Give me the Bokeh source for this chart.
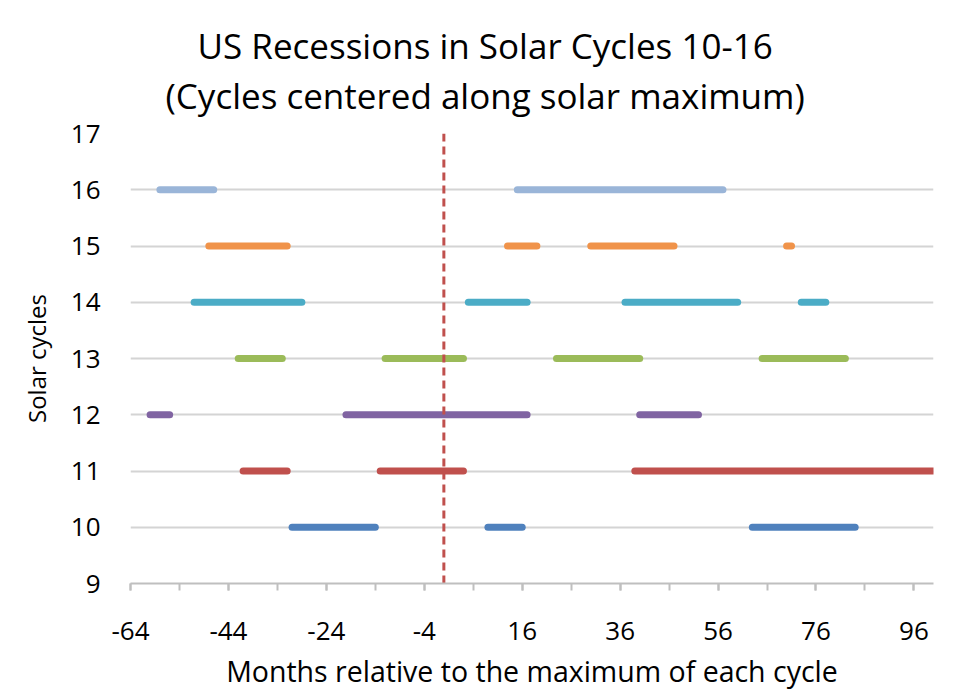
from bokeh.plotting import figure
from bokeh.models import Range1d, FixedTicker, Title
from bokeh.embed import file_html
from bokeh.resources import INLINE

# ---- data ----
cycles = [10, 11, 12, 13, 14, 15, 16]
cycle_colors = ["#4F81BD", "#C0504D", "#8064A2", "#9BBB59", "#4BACC6", "#F0934A", "#9AB5D8"]

seg_cycle = [10, 10, 10,
             11, 11, 11,
             12, 12, 12,
             13, 13, 13, 13,
             14, 14, 14, 14,
             15, 15, 15, 15,
             16, 16]
seg_start = [-31, 9, 63,
             -41, -13, 39,
             -60, -20, 40,
             -42, -12, 23, 65,
             -51, 5, 37, 73,
             -48, 13, 30, 70,
             -58, 15]
seg_end = [-14, 16, 84,
           -32, 4, 100,
           -56, 17, 52,
           -33, 4, 40, 82,
           -29, 17, 60, 78,
           -32, 19, 47, 71,
           -47, 57]

solar_max = [0]
x_ticks = [-64, -44, -24, -4, 16, 36, 56, 76, 96]
x_minor = [-64, -54, -44, -34, -24, -14, -4, 6, 16, 26, 36, 46, 56, 66, 76, 86, 96]
y_ticks = [9, 10, 11, 12, 13, 14, 15, 16, 17]
title_lines = ["US Recessions in Solar Cycles 10-16",
               "(Cycles centered along solar maximum)"]

FONT = "Open Sans"

p = figure(width=938, height=698,
           x_range=Range1d(-64, 100), y_range=Range1d(9, 17),
           output_backend="svg", toolbar_location=None,
           min_border_left=130, min_border_right=5,
           min_border_top=133, min_border_bottom=115)
p.title = None
p.outline_line_color = None
p.background_fill_color = "white"
p.border_fill_color = "white"

# two-line title (first added sits closest to the frame)
t2 = Title(text=title_lines[1], align="left",
           text_font=FONT, text_font_size="35px", text_font_style="normal",
           text_color="#000000", standoff=30, offset=35)
t1 = Title(text=title_lines[0], align="left",
           text_font=FONT, text_font_size="35px", text_font_style="normal",
           text_color="#000000", standoff=-29, offset=67)
p.add_layout(t2, "above")
p.add_layout(t1, "above")

# grid
p.xgrid.visible = False
p.ygrid.ticker = FixedTicker(ticks=y_ticks)
p.ygrid.grid_line_color = "#D4D4D4"
p.ygrid.grid_line_width = 2

# x axis
p.xaxis.ticker = FixedTicker(ticks=x_ticks, minor_ticks=x_minor)
p.xaxis.major_label_overrides = {t: str(t) for t in x_ticks}
p.xaxis.axis_line_color = "#BFBFBF"
p.xaxis.axis_line_width = 2
p.xaxis.major_tick_line_color = "#BFBFBF"
p.xaxis.minor_tick_line_color = "#BFBFBF"
p.xaxis.major_tick_line_width = 2
p.xaxis.minor_tick_line_width = 2
p.xaxis.major_tick_in = 0
p.xaxis.major_tick_out = 7
p.xaxis.minor_tick_in = 0
p.xaxis.minor_tick_out = 7
p.xaxis.major_label_text_font = FONT
p.xaxis.major_label_text_font_size = "26px"
p.xaxis.major_label_text_color = "#000000"
p.xaxis.major_label_standoff = 31
p.xaxis.axis_label = "Months relative to the maximum of each cycle"
p.xaxis.axis_label_text_font = FONT
p.xaxis.axis_label_text_font_size = "28.5px"
p.xaxis.axis_label_text_font_style = "normal"
p.xaxis.axis_label_text_color = "#000000"
p.xaxis.axis_label_standoff = 9

# y axis
p.yaxis.ticker = FixedTicker(ticks=y_ticks)
p.yaxis.major_label_overrides = {t: str(t) for t in y_ticks}
p.yaxis.axis_line_color = None
p.yaxis.major_tick_line_color = None
p.yaxis.minor_tick_line_color = None
p.yaxis.major_label_text_font = FONT
p.yaxis.major_label_text_font_size = "26px"
p.yaxis.major_label_text_color = "#000000"
p.yaxis.major_label_standoff = 24
p.yaxis.axis_label = "Solar cycles"
p.yaxis.axis_label_text_font = FONT
p.yaxis.axis_label_text_font_size = "24px"
p.yaxis.axis_label_text_font_style = "normal"
p.yaxis.axis_label_text_color = "#000000"
p.yaxis.axis_label_standoff = 15

# recession segments, one renderer per cycle
for c, col in zip(cycles, cycle_colors):
    xs0 = [s for s, cc in zip(seg_start, seg_cycle) if cc == c]
    xs1 = [e for e, cc in zip(seg_end, seg_cycle) if cc == c]
    ys = [cc for cc in seg_cycle if cc == c]
    p.segment(x0=xs0, y0=ys, x1=xs1, y1=ys, line_color=col,
              line_width=7, line_cap="round")

# solar maximum reference line
p.segment(x0=solar_max, y0=[y_ticks[0]], x1=solar_max, y1=[y_ticks[-1]],
          line_color="#C0504D", line_width=3, line_dash="8 5")

open("out.html", "w").write(file_html(p, INLINE))
